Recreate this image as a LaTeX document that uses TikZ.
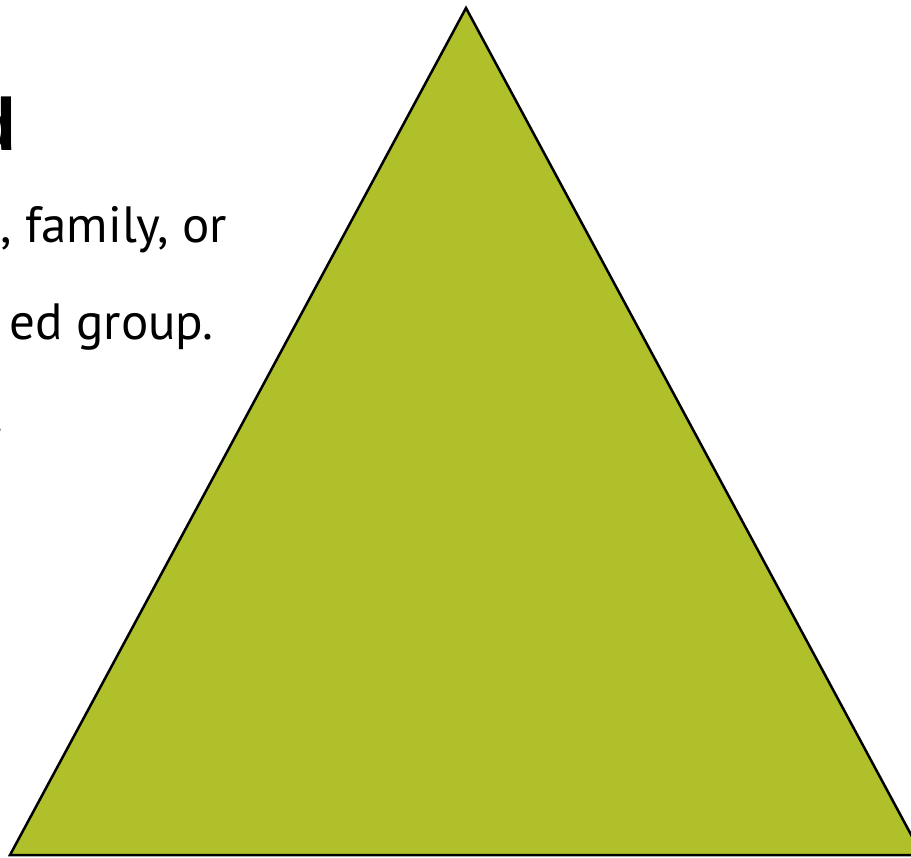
\documentclass[tikz,border=0pt]{standalone}
\usepackage{fontspec}
\setmainfont{PT Sans}
\newfontfamily\titlefont{Liberation Sans}
\definecolor{olive}{RGB}{176,192,42}
\begin{document}
\begin{tikzpicture}[x=1pt,y=-1pt,
  bodytext/.style={font=\fontsize{51}{60}\selectfont, anchor=base east, inner sep=0pt},
  titletext/.style={font=\titlefont\bfseries\fontsize{74}{80}\selectfont, anchor=base east, inner sep=0pt}]
\useasboundingbox (0,0) rectangle (911,858);
\clip (0,0) rectangle (911,858);
\node[titletext] (title) at (17,151) {d};
\node[bodytext] (l1) at (227,243) {, family, or};
\node[bodytext] (l2) at (214,340) {ed group.};
\node[bodytext] (l3) at (4,433) {.};
\coordinate (apex) at (466,8);
\coordinate (bl) at (10,855);
\coordinate (br) at (922,855);
\draw[fill=olive, line width=2.5pt, line join=miter] (apex) -- (bl) -- (br) -- cycle;
\end{tikzpicture}
\end{document}
